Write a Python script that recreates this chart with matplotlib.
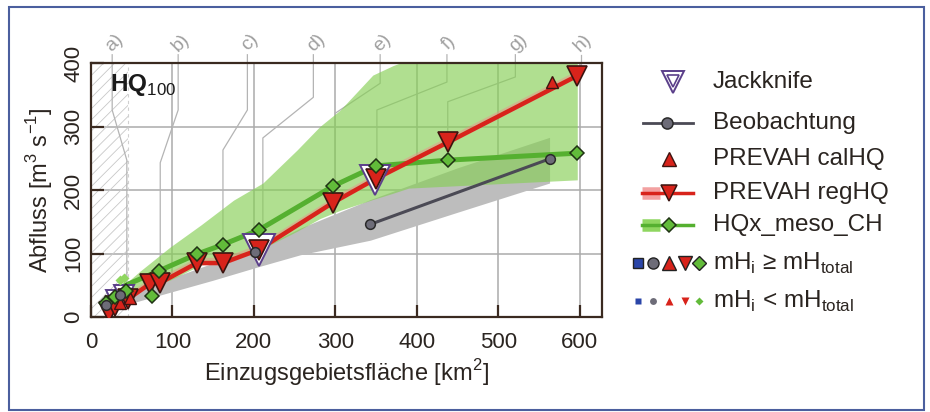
import matplotlib
matplotlib.use('Agg')
import matplotlib.pyplot as plt
from matplotlib.patches import Rectangle
import numpy as np

plt.rcParams['font.family'] = ['Liberation Sans', 'DejaVu Sans']
plt.rcParams['mathtext.fontset'] = 'custom'
plt.rcParams['mathtext.rm'] = 'Liberation Sans'
plt.rcParams['mathtext.bf'] = 'Liberation Sans:bold'
plt.rcParams['hatch.linewidth'] = 0.6

# --- data ---
# PREVAH regHQ (line + big down-triangles)
reg_x = [22, 30, 45, 72, 85, 130, 162, 206, 297, 350, 438, 597]
reg_y = [8, 18, 28, 52, 54, 85, 85, 106, 180, 218, 275, 380]
# PREVAH calHQ (up-triangles)
cal_x = [35, 48, 566]
cal_y = [22, 30, 370]
# HQx_meso_CH diamonds and line
hqx_x = [18, 29, 43, 75, 84, 130, 162, 206, 297, 350, 438, 597]
hqx_y = [22, 31, 41, 33, 73, 99, 114, 137, 206, 238, 247, 258]
hqx_line_x = [37, 84, 130, 162, 206, 297, 350, 438, 597]
hqx_line_y = [47, 73, 99, 114, 137, 206, 238, 247, 258]
hqx_small_x = [35, 40]
hqx_small_y = [58, 62]
# HQx_meso_CH uncertainty band
hqx_band_x = [42, 60, 97, 135, 175, 211, 253, 281, 306, 346, 371, 390, 597]
hqx_band_lo = [40, 45, 58, 82, 90, 108, 135, 155, 168, 185, 195, 203, 216]
hqx_band_hi = [52, 72, 110, 145, 184, 211, 263, 300, 326, 381, 396, 405, 405]
# Beobachtung
obs_x = [19, 36, 201, 343, 563]
obs_y = [19, 34, 102, 146, 249]
obs_band_x = [50, 100, 150, 205, 257, 343, 450, 563]
obs_band_lo = [22, 40, 58, 79, 98, 121, 165, 211]
obs_band_hi = [38, 62, 85, 107, 140, 185, 235, 283]
# Jackknife
jk_x = [30, 41, 206, 349]
jk_y = [28, 35, 106, 216]
jk_size = [13, 14, 23, 22]
# catchment labels and leader lines
cat_labels = ['a)', 'b)', 'c)', 'd)', 'e)', 'f)', 'g)', 'h)']
lead_x = [[26, 26, 44, 44], [107, 107, 85, 85], [192, 192, 162, 162],
          [273, 273, 211, 211], [355, 355, 300, 300], [437, 437, 351, 351],
          [521, 521, 438, 438], [601, 601]]
lead_y = [[413, 326, 247, 53], [413, 326, 243, 63], [413, 326, 263, 118],
          [413, 346, 282, 125], [413, 368, 321, 210], [413, 370, 326, 230],
          [413, 378, 339, 280], [413, 385]]
hatch_limit = 45

xticks = [0, 100, 200, 300, 400, 500, 600]
yticks = [0, 100, 200, 300, 400]

# --- colours ---
TEXT = '#2a2420'
SPINE = '#3a2a20'
GRID = '#ababab'
RED = '#d8231b'
RED_EDGE = '#3c1410'
PINK = '#f08a8a'
GREEN_LINE = '#55b030'
DIAMOND = '#62bb3a'
DIAMOND_EDGE = '#1f3214'
LIGHT_GREEN = '#8fd660'
GREEN_BAND = '#86cf55'
GRAY_BAND = '#bdbdbd'
OBS = '#4b4a55'
OBS_FACE = '#6d6c78'
JK = '#5b3f8a'
BLUE = '#2a45a8'
LABEL_GRAY = '#a0a0a0'
FRAME = '#4b5f9e'

W, H = 930, 412
fig = plt.figure(figsize=(W / 100, H / 100), dpi=100)
ax = fig.add_axes([91 / W, 1 - 317 / H, 510.7 / W, 254 / H])
ax.set_xlim(0, 627)
ax.set_ylim(0, 400)

# grid
for v in xticks[1:]:
    ax.axvline(v, color=GRID, lw=1.1, zorder=0.5)
for v in yticks[1:]:
    ax.axhline(v, color=GRID, lw=1.1, zorder=0.5)

# hatched small-catchment zone
ax.fill_betweenx([0, 400], 0, hatch_limit, facecolor='none',
                 edgecolor='#c8c8c8', hatch='///', lw=0, zorder=1)
ax.plot([hatch_limit, hatch_limit], [0, 400], color='#d0d0d0', lw=0.8,
        ls=(0, (3, 3)), zorder=1)

# leader lines from the catchment labels
for lab, lx, ly in zip(cat_labels, lead_x, lead_y):
    ax.plot(lx, ly, color='#b4b4b4', lw=0.9, zorder=1.2, clip_on=False)
    ax.text(lx[0] + 3, 432, lab, rotation=45, ha='center', va='center',
            fontsize=14, color=LABEL_GRAY, clip_on=False)

# bands
ax.fill_between(obs_band_x, obs_band_lo, obs_band_hi, color=GRAY_BAND,
                lw=0, zorder=2)
ax.fill_between(hqx_band_x, hqx_band_lo, hqx_band_hi, color=GREEN_BAND,
                alpha=0.65, lw=0, zorder=2.5)
reg_arr = np.array(reg_y, dtype=float)
ax.fill_between(reg_x, reg_arr - 3, reg_arr + 9, color=PINK, alpha=0.45,
                lw=0, zorder=3)

# lines
ax.plot(obs_x[3:], obs_y[3:], color=OBS, lw=2.2, zorder=4)
ax.plot(hqx_line_x, hqx_line_y, color=GREEN_LINE, lw=3.6, zorder=4,
        solid_capstyle='round')
ax.plot(reg_x, reg_y, color=RED, lw=3.2, zorder=4.5, solid_capstyle='round')

# jackknife
for x, y, s in zip(jk_x, jk_y, jk_size):
    ax.plot(x, y, marker='v', ms=s, mfc='white', mec=JK, mew=1.4,
            ls='none', zorder=5)

# markers
ax.plot(reg_x, reg_y, marker='v', ms=14, mfc=RED, mec=RED_EDGE, mew=1.2,
        ls='none', zorder=6)
ax.plot(cal_x, cal_y, marker='^', ms=9, mfc=RED, mec=RED_EDGE, mew=1.0,
        ls='none', zorder=6)
ax.plot(hqx_small_x, hqx_small_y, marker='D', ms=5, mfc=LIGHT_GREEN,
        mec='none', ls='none', zorder=6.2)
ax.plot(hqx_x, hqx_y, marker='D', ms=7, mfc=DIAMOND, mec=DIAMOND_EDGE,
        mew=1.1, ls='none', zorder=6.5)
ax.plot(obs_x, obs_y, marker='o', ms=7, mfc=OBS_FACE, mec='#2a2a2a',
        mew=1.1, ls='none', zorder=7)

# axes styling
for sp in ax.spines.values():
    sp.set_color(SPINE)
    sp.set_linewidth(1.6)
ax.set_xticks(xticks)
ax.set_yticks(yticks)
ax.tick_params(direction='in', length=9, width=1.6, color=SPINE,
               labelsize=16, labelcolor=TEXT)
ax.tick_params(axis='x', pad=11)
ax.tick_params(axis='y', pad=5, labelrotation=90)
for t in ax.get_yticklabels():
    t.set_va('center')
ax.set_xlabel('Einzugsgebietsfläche [km$^2$]', fontsize=17, color=TEXT,
              va='center')
ax.xaxis.set_label_coords(0.5, -0.22)
ax.set_ylabel('Abfluss [m$^3$ s$^{-1}$]', fontsize=17, color=TEXT,
              va='center')
ax.yaxis.set_label_coords(-0.1, 0.5)
ax.text(0.037, 0.913, r'$\mathbf{HQ}_{\mathregular{100}}$', transform=ax.transAxes,
        fontsize=17.5, color='#1a1a1a', ha='left', va='center', zorder=8)

# --- legend, drawn in pixel coordinates ---
lg = fig.add_axes([0, 0, 1, 1], facecolor='none')
lg.set_xlim(0, W)
lg.set_ylim(H, 0)
lg.axis('off')

rows = [82, 123, 159, 193, 225, 263, 301]
mx = 669
tx = 713
lg.plot(673, rows[0], marker='v', ms=16, mfc='white', mec=JK, mew=1.4)
lg.plot(673, rows[0] - 1.5, marker='v', ms=8, mfc='white', mec=JK, mew=1.2)
lg.plot([643, 693], [rows[1]] * 2, color=OBS, lw=2)
lg.plot(667, rows[1], marker='o', ms=8, mfc=OBS_FACE, mec='#2a2a2a', mew=1.1)
lg.plot(mx, rows[2], marker='^', ms=10, mfc=RED, mec=RED_EDGE, mew=1.0)
lg.plot([642, 660], [rows[3]] * 2, color=PINK, lw=9, alpha=0.8,
        solid_capstyle='butt')
lg.plot([642, 693], [rows[3]] * 2, color=RED, lw=2.5)
lg.plot(mx, rows[3], marker='v', ms=11, mfc=RED, mec=RED_EDGE, mew=1.1)
lg.plot([642, 660], [rows[4]] * 2, color=LIGHT_GREEN, lw=9,
        solid_capstyle='butt')
lg.plot([642, 693], [rows[4]] * 2, color=GREEN_LINE, lw=2.5)
lg.plot(mx, rows[4], marker='D', ms=7, mfc=DIAMOND, mec=DIAMOND_EDGE,
        mew=1.1)

big = [(638, 's', BLUE, 7), (653, 'o', OBS_FACE, 8), (669, '^', RED, 10),
       (685, 'v', RED, 10), (699, 'D', DIAMOND, 7)]
for x, m, c, s in big:
    lg.plot(x, rows[5], marker=m, ms=s, mfc=c, mec='#222222', mew=1.0)
    lg.plot(x, rows[6], marker=m, ms=s * 0.62, mfc=c, mec='none')

leg_text = ['Jackknife', 'Beobachtung', 'PREVAH calHQ', 'PREVAH regHQ',
            'HQx_meso_CH', r'mH$_{\mathregular{i}}$ ≥ mH$_{\mathregular{total}}$',
            r'mH$_{\mathregular{i}}$ < mH$_{\mathregular{total}}$']
for y, t in zip(rows, leg_text):
    lg.text(tx, y, t, fontsize=17.5, color=TEXT, ha='left', va='center')

# outer frame
fig.patches.append(Rectangle((9 / W, 2 / H), 915 / W, 403 / H,
                             transform=fig.transFigure, fill=False,
                             edgecolor=FRAME, lw=1.5))

fig.savefig('out.png', dpi=100, facecolor='white')
